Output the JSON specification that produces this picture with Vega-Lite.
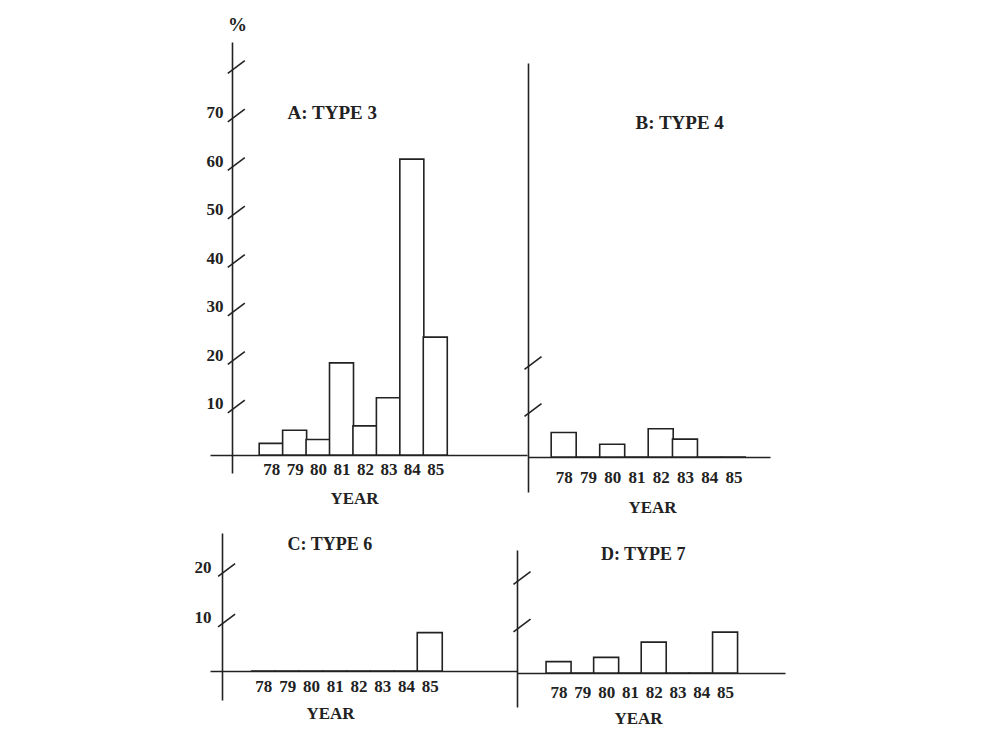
{
  "$schema": "https://vega.github.io/schema/vega-lite/v6.json",
  "width": 997,
  "height": 729,
  "autosize": {"type": "none"},
  "padding": 0,
  "background": "white",
  "config": {
    "font": "Liberation Serif",
    "view": {"stroke": null},
    "axis": {
      "labelFont": "Liberation Serif",
      "titleFont": "Liberation Serif",
      "labelFontSize": 17,
      "labelFontWeight": "bold",
      "labelColor": "#222",
      "titleColor": "#222",
      "titleFontSize": 17,
      "titleFontWeight": "bold",
      "domainColor": "#222",
      "domainWidth": 1.6,
      "ticks": false,
      "grid": false,
      "labelFlush": false,
      "labelOverlap": false
    }
  },
  "datasets": {
    "barRows": [
      {"panel": "A", "year": 78, "pct": 2.4},
      {"panel": "A", "year": 79, "pct": 5.1},
      {"panel": "A", "year": 80, "pct": 3.2},
      {"panel": "A", "year": 81, "pct": 19.0},
      {"panel": "A", "year": 82, "pct": 6.0},
      {"panel": "A", "year": 83, "pct": 11.8},
      {"panel": "A", "year": 84, "pct": 61.0},
      {"panel": "A", "year": 85, "pct": 24.3},
      {"panel": "B", "year": 78, "pct": 5.2},
      {"panel": "B", "year": 79, "pct": 0},
      {"panel": "B", "year": 80, "pct": 2.7},
      {"panel": "B", "year": 81, "pct": 0},
      {"panel": "B", "year": 82, "pct": 6.0},
      {"panel": "B", "year": 83, "pct": 3.8},
      {"panel": "B", "year": 84, "pct": 0},
      {"panel": "B", "year": 85, "pct": 0},
      {"panel": "C", "year": 78, "pct": 0},
      {"panel": "C", "year": 79, "pct": 0},
      {"panel": "C", "year": 80, "pct": 0},
      {"panel": "C", "year": 81, "pct": 0},
      {"panel": "C", "year": 82, "pct": 0},
      {"panel": "C", "year": 83, "pct": 0},
      {"panel": "C", "year": 84, "pct": 0},
      {"panel": "C", "year": 85, "pct": 7.6},
      {"panel": "D", "year": 78, "pct": 2.4},
      {"panel": "D", "year": 79, "pct": 0},
      {"panel": "D", "year": 80, "pct": 3.3},
      {"panel": "D", "year": 81, "pct": 0},
      {"panel": "D", "year": 82, "pct": 6.5},
      {"panel": "D", "year": 83, "pct": 0},
      {"panel": "D", "year": 84, "pct": 0},
      {"panel": "D", "year": 85, "pct": 8.6}
    ],
    "slashRows": [
      {"panel": "A", "value": 10},
      {"panel": "A", "value": 20},
      {"panel": "A", "value": 30},
      {"panel": "A", "value": 40},
      {"panel": "A", "value": 50},
      {"panel": "A", "value": 60},
      {"panel": "A", "value": 70},
      {"panel": "A", "value": 80},
      {"panel": "B", "value": 10},
      {"panel": "B", "value": 20},
      {"panel": "C", "value": 10},
      {"panel": "C", "value": 20},
      {"panel": "D", "value": 10},
      {"panel": "D", "value": 20}
    ],
    "headRows": [
      {"panel": "A", "label": "A: TYPE 3"},
      {"panel": "B", "label": "B: TYPE 4"},
      {"panel": "C", "label": "C: TYPE 6"},
      {"panel": "D", "label": "D: TYPE 7"}
    ]
  },
  "resolve": {
    "scale": {"x": "independent", "y": "independent"},
    "axis": {"x": "independent", "y": "independent"}
  },
  "layer": [
    {
      "layer": [
        {
          "data": {"name": "barRows"},
          "transform": [{"filter": "datum.panel === 'A'"}],
          "mark": {"type": "bar", "fill": "white", "stroke": "#222", "strokeWidth": 1.6, "size": 24},
          "encoding": {
            "x": {"field": "year", "type": "quantitative",
              "scale": {"domain": [75.603, 88.70], "range": [210, 527], "nice": false, "zero": false},
              "axis": {"orient": "bottom", "offset": -274, "values": [78, 79, 80, 81, 82, 83, 84, 85], "format": "d", "labelPadding": 6, "title": "YEAR", "titleX": 354, "titleY": 43, "titleBaseline": "middle", "titleAlign": "center"}},
            "y": {"field": "pct", "type": "quantitative",
              "scale": {"domain": [-3.711, 85.155], "range": [473, 42], "nice": false, "zero": false},
              "axis": {"orient": "left", "offset": -232, "values": [10, 20, 30, 40, 50, 60, 70], "labelPadding": 9, "labelOffset": -3, "title": "%", "titleAngle": 0, "titleX": 5, "titleY": 24, "titleBaseline": "middle", "titleAlign": "center", "titleFontSize": 19}}
          }
        },
        {
          "data": {"name": "slashRows"},
          "transform": [{"filter": "datum.panel === 'A'"}],
          "mark": {"type": "point", "shape": "M-1,0.75L1,-0.75", "size": 289, "filled": false, "stroke": "#222", "strokeWidth": 1.6, "opacity": 1},
          "encoding": {
            "x": {"datum": 76.512, "type": "quantitative", "scale": {"domain": [75.603, 88.70], "range": [210, 527], "nice": false, "zero": false}},
            "y": {"field": "value", "type": "quantitative", "scale": {"domain": [-3.711, 85.155], "range": [473, 42], "nice": false, "zero": false}}
          }
        },
        {
          "data": {"name": "headRows"},
          "transform": [{"filter": "datum.panel === 'A'"}],
          "mark": {"type": "text", "align": "left", "baseline": "middle", "fontSize": 19, "fontWeight": "bold", "color": "#222"},
          "encoding": {
            "text": {"field": "label"},
            "x": {"datum": 78.70, "type": "quantitative", "scale": {"domain": [75.603, 88.70], "range": [210, 527], "nice": false, "zero": false}},
            "y": {"datum": 70.52, "type": "quantitative", "scale": {"domain": [-3.711, 85.155], "range": [473, 42], "nice": false, "zero": false}}
          }
        }
      ]
    },
    {
      "layer": [
        {
          "data": {"name": "barRows"},
          "transform": [{"filter": "datum.panel === 'B'"}],
          "mark": {"type": "bar", "fill": "white", "stroke": "#222", "strokeWidth": 1.6, "size": 25},
          "encoding": {
            "x": {"field": "year", "type": "quantitative",
              "scale": {"domain": [76.735, 86.30], "range": [528, 770], "nice": false, "zero": false},
              "axis": {"orient": "bottom", "offset": -272, "values": [78, 79, 80, 81, 82, 83, 84, 85], "format": "d", "labelPadding": 12, "title": "YEAR", "titleX": 652, "titleY": 50, "titleBaseline": "middle", "titleAlign": "center"}},
            "y": {"field": "pct", "type": "quantitative",
              "scale": {"domain": [-7.447, 83.83], "range": [492, 63], "nice": false, "zero": false},
              "axis": {"orient": "left", "offset": -528, "labels": false, "title": null}}
          }
        },
        {
          "data": {"name": "slashRows"},
          "transform": [{"filter": "datum.panel === 'B'"}],
          "mark": {"type": "point", "shape": "M-1,0.75L1,-0.75", "size": 289, "filled": false, "stroke": "#222", "strokeWidth": 1.6, "opacity": 1},
          "encoding": {
            "x": {"datum": 76.735, "type": "quantitative", "scale": {"domain": [76.735, 86.30], "range": [528, 770], "nice": false, "zero": false}},
            "y": {"field": "value", "type": "quantitative", "scale": {"domain": [-7.447, 83.83], "range": [492, 63], "nice": false, "zero": false}}
          }
        },
        {
          "data": {"name": "headRows"},
          "transform": [{"filter": "datum.panel === 'B'"}],
          "mark": {"type": "text", "align": "left", "baseline": "middle", "fontSize": 19, "fontWeight": "bold", "color": "#222"},
          "encoding": {
            "text": {"field": "label"},
            "x": {"datum": 80.96, "type": "quantitative", "scale": {"domain": [76.735, 86.30], "range": [528, 770], "nice": false, "zero": false}},
            "y": {"datum": 71.06, "type": "quantitative", "scale": {"domain": [-7.447, 83.83], "range": [492, 63], "nice": false, "zero": false}}
          }
        }
      ]
    },
    {
      "layer": [
        {
          "data": {"name": "barRows"},
          "transform": [{"filter": "datum.panel === 'C'"}],
          "mark": {"type": "bar", "fill": "white", "stroke": "#222", "strokeWidth": 1.6, "size": 25},
          "encoding": {
            "x": {"field": "year", "type": "quantitative",
              "scale": {"domain": [75.965, 88.46], "range": [210, 517], "nice": false, "zero": false},
              "axis": {"orient": "bottom", "offset": -58, "values": [78, 79, 80, 81, 82, 83, 84, 85], "format": "d", "labelPadding": 7, "title": "YEAR", "titleX": 330, "titleY": 42, "titleBaseline": "middle", "titleAlign": "center"}},
            "y": {"field": "pct", "type": "quantitative",
              "scale": {"domain": [-5.743, 27.327], "range": [700, 533], "nice": false, "zero": false},
              "axis": {"orient": "left", "offset": -222, "values": [10, 20], "labelPadding": 11, "labelOffset": -3, "title": null}}
          }
        },
        {
          "data": {"name": "slashRows"},
          "transform": [{"filter": "datum.panel === 'C'"}],
          "mark": {"type": "point", "shape": "M-1,0.75L1,-0.75", "size": 289, "filled": false, "stroke": "#222", "strokeWidth": 1.6, "opacity": 1},
          "encoding": {
            "x": {"datum": 76.453, "type": "quantitative", "scale": {"domain": [75.965, 88.46], "range": [210, 517], "nice": false, "zero": false}},
            "y": {"field": "value", "type": "quantitative", "scale": {"domain": [-5.743, 27.327], "range": [700, 533], "nice": false, "zero": false}}
          }
        },
        {
          "data": {"name": "headRows"},
          "transform": [{"filter": "datum.panel === 'C'"}],
          "mark": {"type": "text", "align": "left", "baseline": "middle", "fontSize": 18, "fontWeight": "bold", "color": "#222"},
          "encoding": {
            "text": {"field": "label"},
            "x": {"datum": 79.02, "type": "quantitative", "scale": {"domain": [75.965, 88.46], "range": [210, 517], "nice": false, "zero": false}},
            "y": {"datum": 24.95, "type": "quantitative", "scale": {"domain": [-5.743, 27.327], "range": [700, 533], "nice": false, "zero": false}}
          }
        }
      ]
    },
    {
      "layer": [
        {
          "data": {"name": "barRows"},
          "transform": [{"filter": "datum.panel === 'D'"}],
          "mark": {"type": "bar", "fill": "white", "stroke": "#222", "strokeWidth": 1.6, "size": 25},
          "encoding": {
            "x": {"field": "year", "type": "quantitative",
              "scale": {"domain": [76.462, 87.31], "range": [517, 785], "nice": false, "zero": false},
              "axis": {"orient": "bottom", "offset": -56, "values": [78, 79, 80, 81, 82, 83, 84, 85], "format": "d", "labelPadding": 11, "title": "YEAR", "titleX": 638, "titleY": 45, "titleBaseline": "middle", "titleAlign": "center"}},
            "y": {"field": "pct", "type": "quantitative",
              "scale": {"domain": [-7.158, 25.895], "range": [707, 550], "nice": false, "zero": false},
              "axis": {"orient": "left", "offset": -517, "labels": false, "title": null}}
          }
        },
        {
          "data": {"name": "slashRows"},
          "transform": [{"filter": "datum.panel === 'D'"}],
          "mark": {"type": "point", "shape": "M-1,0.75L1,-0.75", "size": 289, "filled": false, "stroke": "#222", "strokeWidth": 1.6, "opacity": 1},
          "encoding": {
            "x": {"datum": 76.462, "type": "quantitative", "scale": {"domain": [76.462, 87.31], "range": [517, 785], "nice": false, "zero": false}},
            "y": {"field": "value", "type": "quantitative", "scale": {"domain": [-7.158, 25.895], "range": [707, 550], "nice": false, "zero": false}}
          }
        },
        {
          "data": {"name": "headRows"},
          "transform": [{"filter": "datum.panel === 'D'"}],
          "mark": {"type": "text", "align": "left", "baseline": "middle", "fontSize": 18, "fontWeight": "bold", "color": "#222"},
          "encoding": {
            "text": {"field": "label"},
            "x": {"datum": 79.78, "type": "quantitative", "scale": {"domain": [76.462, 87.31], "range": [517, 785], "nice": false, "zero": false}},
            "y": {"datum": 24.84, "type": "quantitative", "scale": {"domain": [-7.158, 25.895], "range": [707, 550], "nice": false, "zero": false}}
          }
        }
      ]
    }
  ]
}
